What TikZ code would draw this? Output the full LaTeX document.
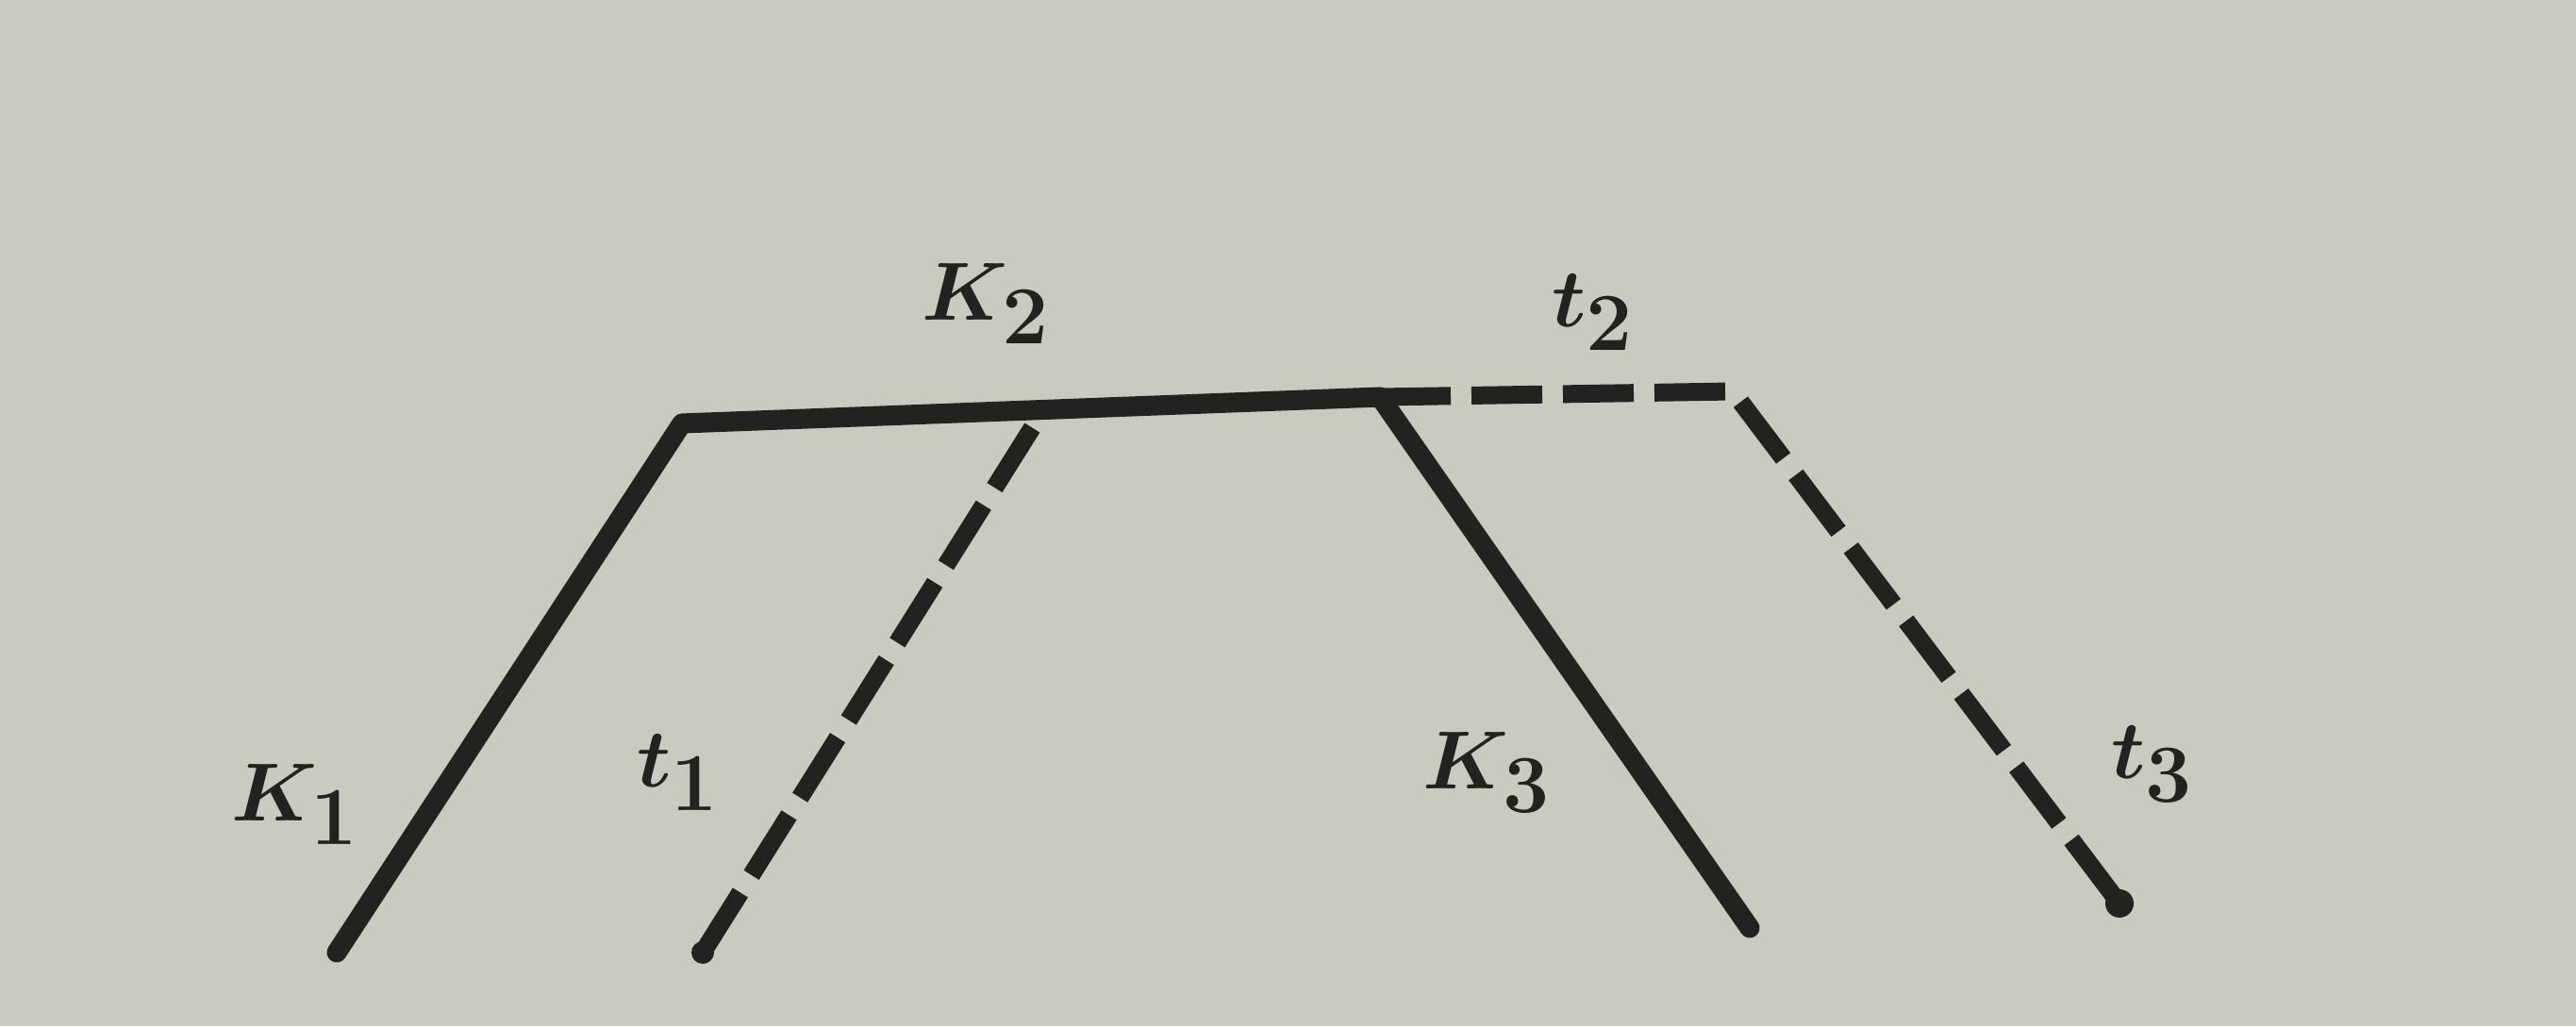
\documentclass[tikz,border=0pt]{standalone}
\usepackage{tikz}

\definecolor{paper}{RGB}{202,202,193}
\definecolor{ink}{RGB}{34,34,32}

\tikzset{
  kline/.style={draw=ink,line width=6pt,line cap=round,line join=round},
  tline/.style={draw=ink,line width=5.4pt,dash pattern=on 0.75cm off 0.22cm},
  lab/.style={text=ink,font=\fontsize{64}{76}\selectfont\boldmath}
}

\begin{document}
\begin{tikzpicture}
  % paper
  \fill[paper] (0,0) rectangle (27.31,10.88);
  \useasboundingbox (0,0) rectangle (27.31,10.88);

  % K path
  \coordinate (k1) at (3.57,0.78);
  \coordinate (k2a) at (7.23,6.39);
  \coordinate (k2b) at (14.63,6.67);
  \coordinate (k3) at (18.55,1.04);

  \draw[kline] (k1) -- (k2a) -- (k2b) -- (k3);

  % t path
  \coordinate (t1) at (7.45,0.78);
  \coordinate (t2a) at (11.06,6.53);
  \coordinate (t2b) at (18.37,6.73);
  \coordinate (t3) at (22.47,1.30);

  \draw[tline] (t1) -- (t2a);
  \draw[tline] (k2b) -- (t2b) -- (t3);
  \fill[ink] (t1) circle (0.12);
  \fill[ink] (t3) circle (0.15);

  \node[lab] (lk1) at (3.13,2.35) {$K_1$};
  \node[lab] (lt1) at (7.19,2.69) {$t_1$};
  \node[lab] (lk2) at (10.45,7.66) {$K_2$};
  \node[lab] (lt2) at (16.89,7.57) {$t_2$};
  \node[lab] (lk3) at (15.76,2.69) {$K_3$};
  \node[lab] (lt3) at (22.82,2.78) {$t_3$};

\end{tikzpicture}
\end{document}
